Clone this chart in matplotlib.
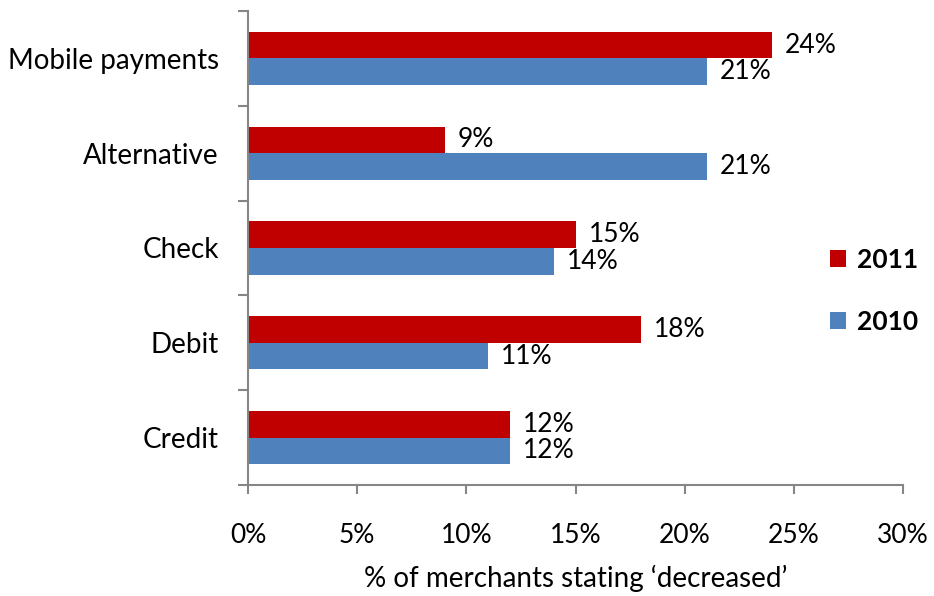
import matplotlib.pyplot as plt
import numpy as np

plt.rcParams['font.family'] = ['Lato', 'DejaVu Sans']

categories = ["Credit", "Debit", "Check", "Alternative", "Mobile payments"]
values_2011 = [12, 18, 15, 9, 24]
values_2010 = [12, 11, 14, 21, 21]

RED = "#C00000"
BLUE = "#4F81BD"
GREY = "#868686"

fig = plt.figure(figsize=(9.34, 5.96), dpi=100)
ax = fig.add_axes([248 / 934, 1 - 485 / 596, 655 / 934, 474 / 596])

y = np.arange(len(categories))
h = 0.28
ax.barh(y + h / 2, values_2011, height=h, color=RED, label="2011")
ax.barh(y - h / 2, values_2010, height=h, color=BLUE, label="2010")

# value labels just past the end of each bar
for yi, v in zip(y + h / 2, values_2011):
    ax.text(v + 0.6, yi, f"{v}%", va="center", ha="left", fontsize=19)
for yi, v in zip(y - h / 2, values_2010):
    ax.text(v + 0.6, yi, f"{v}%", va="center", ha="left", fontsize=19)

ax.set_xlim(0, 30)
ax.set_ylim(-0.5, len(categories) - 0.5)
ax.set_xticks(np.arange(0, 31, 5))
ax.set_xticklabels([f"{t}%" for t in range(0, 31, 5)], fontsize=19)

# category labels sit between the boundary ticks
ax.set_yticks(np.arange(-0.5, len(categories), 1.0))
ax.set_yticklabels([])
ax.set_yticks(y, minor=True)
ax.set_yticklabels(categories, minor=True, fontsize=20)
ax.tick_params(axis="y", which="minor", length=0, pad=21)
ax.tick_params(axis="y", which="major", length=7, color=GREY, width=1.5)
ax.tick_params(axis="x", length=6.5, color=GREY, width=1.5, pad=21)

for side in ("top", "right"):
    ax.spines[side].set_visible(False)
for side in ("left", "bottom"):
    ax.spines[side].set_color(GREY)
    ax.spines[side].set_linewidth(1.5)

ax.set_xlabel("% of merchants stating \u2018decreased\u2019", fontsize=20, labelpad=12)

ax.legend(loc="center left", bbox_to_anchor=(0.852, 0.41), frameon=False,
          prop={"weight": "bold", "size": 19}, handlelength=0.6, handleheight=0.6,
          labelspacing=1.45, handletextpad=0.42)

fig.savefig("out.png", dpi=100)
